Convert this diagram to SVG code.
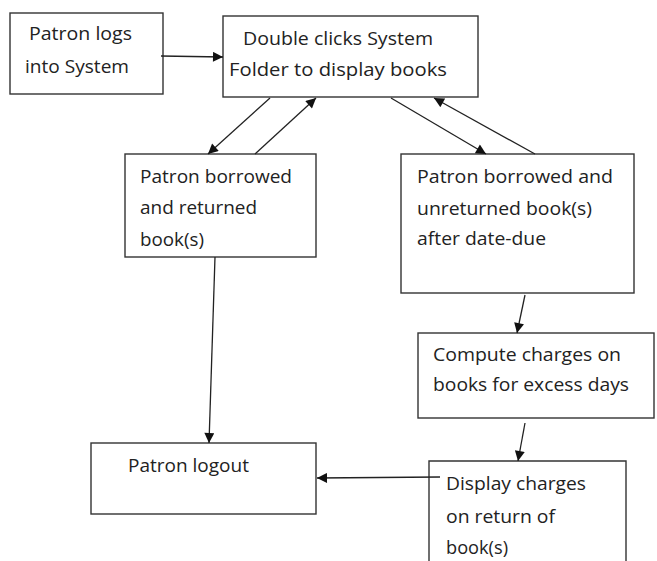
<svg xmlns="http://www.w3.org/2000/svg" width="657" height="561" viewBox="0 0 657 561">
<defs>
<style>
.box{fill:#fff;stroke:#333;stroke-width:1.4}
.t{font-family:"Open Sans","Liberation Sans",sans-serif;font-size:19px;fill:#222}
.c{stroke:#222;stroke-width:1.3;fill:none;marker-end:url(#ah)}
</style>
<marker id="ah" viewBox="0 0 10 10" refX="10" refY="5" markerWidth="11" markerHeight="10" markerUnits="userSpaceOnUse" orient="auto">
<path d="M0,0 L10,5 L0,10 z" fill="#111"/>
</marker>
</defs>
<rect width="657" height="561" fill="#fff"/>
<g id="n1">
<rect class="box" x="10" y="13" width="153" height="81"/>
<text class="t" x="29" y="40" textLength="103" lengthAdjust="spacingAndGlyphs">Patron logs</text>
<text class="t" x="25" y="73" textLength="104" lengthAdjust="spacingAndGlyphs">into System</text>
</g>
<g id="n2">
<rect class="box" x="223" y="16" width="255" height="81"/>
<text class="t" x="243" y="45" textLength="190" lengthAdjust="spacingAndGlyphs">Double clicks System</text>
<text class="t" x="229" y="76" textLength="218" lengthAdjust="spacingAndGlyphs">Folder to display books</text>
</g>
<g id="n3">
<rect class="box" x="125" y="154" width="191" height="103"/>
<text class="t" x="140" y="183" textLength="152" lengthAdjust="spacingAndGlyphs">Patron borrowed</text>
<text class="t" x="140" y="214" textLength="117" lengthAdjust="spacingAndGlyphs">and returned</text>
<text class="t" x="140" y="246" textLength="64" lengthAdjust="spacingAndGlyphs">book(s)</text>
</g>
<g id="n4">
<rect class="box" x="401" y="154" width="233" height="139"/>
<text class="t" x="417" y="183" textLength="196" lengthAdjust="spacingAndGlyphs">Patron borrowed and</text>
<text class="t" x="417" y="215" textLength="175" lengthAdjust="spacingAndGlyphs">unreturned book(s)</text>
<text class="t" x="417" y="245" textLength="129" lengthAdjust="spacingAndGlyphs">after date-due</text>
</g>
<g id="n5">
<rect class="box" x="418" y="333" width="236" height="85"/>
<text class="t" x="433" y="361" textLength="188" lengthAdjust="spacingAndGlyphs">Compute charges on</text>
<text class="t" x="433" y="391" textLength="196" lengthAdjust="spacingAndGlyphs">books for excess days</text>
</g>
<g id="n6">
<rect class="box" x="91" y="443" width="225" height="71"/>
<text class="t" x="128" y="472" textLength="121" lengthAdjust="spacingAndGlyphs">Patron logout</text>
</g>
<g id="n7">
<path class="box" d="M429,566 L429,461 L626,461 L626,566"/>
<text class="t" x="446" y="490" textLength="140" lengthAdjust="spacingAndGlyphs">Display charges</text>
<text class="t" x="446" y="523" textLength="109" lengthAdjust="spacingAndGlyphs">on return of</text>
<text class="t" x="446" y="554" textLength="62" lengthAdjust="spacingAndGlyphs">book(s)</text>
</g>
<g id="connectors">
<line class="c" x1="161" y1="56" x2="223" y2="57"/>
<line class="c" x1="270" y1="98" x2="208" y2="154"/>
<line class="c" x1="255" y1="154" x2="316" y2="98"/>
<line class="c" x1="391" y1="98" x2="486" y2="154"/>
<line class="c" x1="535" y1="154" x2="434" y2="98"/>
<line class="c" x1="525" y1="295" x2="517" y2="333"/>
<line class="c" x1="215" y1="257" x2="209" y2="443"/>
<line class="c" x1="525" y1="423" x2="518" y2="461"/>
<line class="c" x1="440" y1="477" x2="317" y2="478"/>
</g>
</svg>
